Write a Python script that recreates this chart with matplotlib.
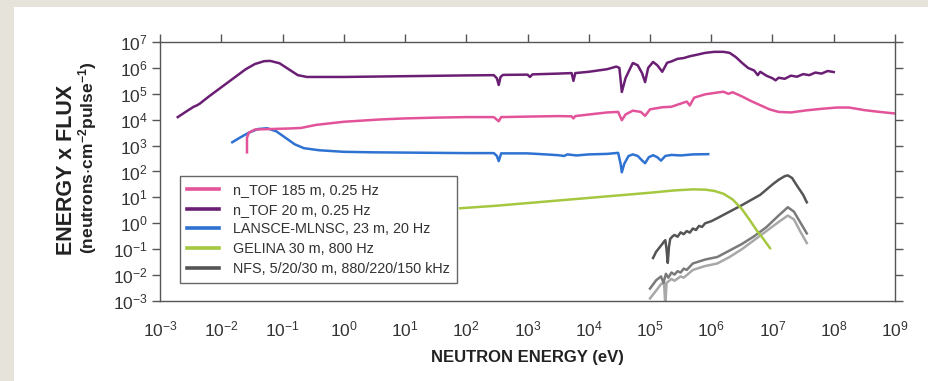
import numpy as np
import matplotlib
matplotlib.use("Agg")
import matplotlib.pyplot as plt
from matplotlib.patches import Rectangle
from matplotlib.lines import Line2D

plt.rcParams['font.family'] = ['Liberation Sans', 'DejaVu Sans']
plt.rcParams['mathtext.default'] = 'regular'

# ---- data (log10 values) ----
ntof185_logE = [-1.58, -1.58, -1.55, -1.45, -1.2, -0.9, -0.7, -0.45, 0.0, 0.6, 1.0, 1.5, 2.0, 2.45, 2.53, 2.57,
                3.0, 3.5, 3.72, 3.75, 3.78, 4.0, 4.3, 4.48, 4.54, 4.6, 4.72, 4.85, 4.92, 5.0, 5.2, 5.35, 5.5,
                5.6, 5.65, 5.72, 5.9, 6.1, 6.2, 6.28, 6.35, 6.5, 6.65, 6.8, 6.95, 7.1, 7.3, 7.55, 7.8, 8.05,
                8.25, 8.5, 8.75, 9.0]
ntof185_logY = [2.74, 3.3, 3.5, 3.62, 3.64, 3.66, 3.68, 3.8, 3.92, 4.01, 4.05, 4.08, 4.1, 4.1, 3.94, 4.1,
                4.12, 4.14, 4.13, 4.05, 4.14, 4.2, 4.28, 4.3, 3.98, 4.2, 4.35, 4.3, 4.15, 4.4, 4.48, 4.5, 4.62,
                4.7, 4.55, 4.85, 4.98, 5.05, 5.08, 5.0, 5.06, 4.9, 4.72, 4.56, 4.4, 4.3, 4.28, 4.36, 4.42, 4.47,
                4.47, 4.37, 4.3, 4.24]

ntof20_logE = [-2.71, -2.55, -2.45, -2.40, -2.35, -2.2, -2.0, -1.8, -1.6, -1.45, -1.3, -1.2, -1.05, -0.9,
               -0.75, -0.6, 0.0, 1.0, 2.0, 2.45, 2.50, 2.53, 2.56, 2.6, 3.0, 3.04, 3.08, 3.5, 3.72, 3.75, 3.78,
               4.0, 4.3, 4.45, 4.5, 4.54, 4.6, 4.68, 4.72, 4.8, 4.87, 4.92, 4.97, 5.05, 5.12, 5.2, 5.28, 5.35,
               5.45, 5.55, 5.65, 5.75, 5.9, 6.05, 6.2, 6.3, 6.4, 6.5, 6.6, 6.7, 6.76, 6.8, 6.9, 7.0, 7.05,
               7.1, 7.2, 7.3, 7.4, 7.5, 7.6, 7.7, 7.8, 7.9, 8.0]
ntof20_logY = [4.10, 4.35, 4.50, 4.55, 4.62, 4.90, 5.25, 5.6, 5.95, 6.15, 6.26, 6.27, 6.18, 5.95, 5.72,
               5.65, 5.65, 5.68, 5.71, 5.72, 5.60, 5.34, 5.65, 5.73, 5.74, 5.65, 5.75, 5.78, 5.80, 5.50, 5.80,
               5.85, 5.95, 6.05, 6.0, 5.07, 5.6, 6.0, 6.19, 6.1, 5.8, 5.45, 6.0, 6.23, 6.1, 5.85, 6.2, 6.25,
               6.35, 6.38, 6.45, 6.5, 6.58, 6.62, 6.62, 6.58, 6.42, 6.2, 6.0, 5.9, 5.72, 5.85, 5.7, 5.6, 5.52,
               5.62, 5.58, 5.7, 5.66, 5.76, 5.72, 5.82, 5.78, 5.88, 5.84]

lansce_logE = [-1.82, -1.7, -1.55, -1.4, -1.25, -1.1, -0.95, -0.8, -0.65, -0.4, 0.0, 0.5, 1.0, 1.5, 2.0,
               2.45, 2.5, 2.53, 2.57, 3.0, 3.3, 3.5, 3.6, 3.65, 3.8, 4.0, 4.3, 4.48, 4.52, 4.54, 4.58, 4.65,
               4.72, 4.8, 4.86, 4.92, 4.98, 5.05, 5.12, 5.18, 5.25, 5.35, 5.5, 5.7, 5.95]
lansce_logY = [3.13, 3.3, 3.5, 3.64, 3.67, 3.55, 3.3, 3.05, 2.9, 2.82, 2.76, 2.74, 2.73, 2.72, 2.71,
               2.71, 2.6, 2.4, 2.7, 2.7, 2.66, 2.63, 2.6, 2.66, 2.62, 2.66, 2.68, 2.72, 2.3, 1.97, 2.3, 2.6,
               2.66, 2.6, 2.45, 2.32, 2.55, 2.63, 2.55, 2.42, 2.6, 2.64, 2.62, 2.66, 2.67]

gelina_logE = [1.9, 2.5, 3.0, 3.5, 4.0, 4.5, 5.0, 5.4, 5.7, 5.9, 6.05, 6.2, 6.35, 6.5, 6.63, 6.75, 6.85, 6.96]
gelina_logY = [0.58, 0.68, 0.78, 0.88, 0.98, 1.08, 1.18, 1.27, 1.31, 1.30, 1.25, 1.14, 0.92, 0.55, 0.12,
               -0.3, -0.6, -0.96]

nfs5_logE = [5.05, 5.1, 5.15, 5.2, 5.23, 5.25, 5.27, 5.29, 5.31, 5.33, 5.37, 5.4, 5.45, 5.5, 5.55, 5.6,
             5.65, 5.7, 5.75, 5.8, 5.85, 5.9, 6.0, 6.1, 6.3, 6.5, 6.65, 6.8, 6.9, 7.0, 7.1, 7.2, 7.25, 7.32,
             7.4, 7.5, 7.56]
nfs5_logY = [-1.34, -1.1, -0.95, -0.8, -0.7, -0.65, -1.0, -1.53, -0.9, -0.6, -0.5, -0.45, -0.52, -0.35,
             -0.42, -0.3, -0.36, -0.2, -0.26, -0.1, -0.14, 0.0, 0.08, 0.2, 0.45, 0.7, 0.9, 1.1, 1.3, 1.5,
             1.68, 1.82, 1.85, 1.75, 1.45, 1.1, 0.81]

nfs20_logE = [5.0, 5.1, 5.18, 5.22, 5.26, 5.3, 5.35, 5.4, 5.45, 5.5, 5.55, 5.6, 5.7, 5.9, 6.1, 6.3, 6.5,
              6.7, 6.9, 7.1, 7.25, 7.35, 7.45, 7.56]
nfs20_logY = [-2.52, -2.2, -2.05, -2.3, -1.95, -2.1, -1.9, -1.98, -1.85, -1.9, -1.75, -1.8, -1.55, -1.4,
              -1.3, -1.05, -0.8, -0.5, -0.15, 0.3, 0.62, 0.45, 0.05, -0.39]

nfs30_logE = [5.0, 5.1, 5.18, 5.23, 5.25, 5.27, 5.35, 5.4, 5.5, 5.55, 5.7, 5.9, 6.1, 6.3, 6.5, 6.7, 6.9,
              7.1, 7.25, 7.35, 7.45, 7.56]
nfs30_logY = [-2.9, -2.6, -2.35, -2.3, -3.2, -2.3, -2.15, -2.22, -2.05, -2.1, -1.8, -1.65, -1.55, -1.3,
              -1.0, -0.65, -0.3, 0.05, 0.3, 0.15, -0.3, -0.76]

labels = ["n_TOF 185 m, 0.25 Hz", "n_TOF 20 m, 0.25 Hz", "LANSCE-MLNSC, 23 m, 20 Hz",
          "GELINA 30 m, 800 Hz", "NFS, 5/20/30 m, 880/220/150 kHz"]
x_ticks_exp = list(range(-3, 10))
y_ticks_exp = list(range(-3, 8))

c_pink = '#e2539a'
c_purple = '#6b1f74'
c_blue = '#2e72d2'
c_green = '#a5c840'
c_gray1 = '#555555'
c_gray2 = '#7a7a7a'
c_gray3 = '#a8a8a8'

fig = plt.figure(figsize=(9.29, 3.81), dpi=100, facecolor='white')
# beige frame strips (top and left)
fig.patches.append(Rectangle((0, 0), 14 / 929, 1, transform=fig.transFigure,
                             facecolor='#e6e3da', edgecolor='none', zorder=-10))
fig.patches.append(Rectangle((0, 1 - 7 / 381), 1, 7 / 381, transform=fig.transFigure,
                             facecolor='#e6e3da', edgecolor='none', zorder=-10))
ax = fig.add_axes([160 / 929, 1 - 301 / 381, (895 - 160) / 929, (301 - 42) / 381])
ax.set_facecolor('white')


def p(le, ly):
    return 10 ** np.array(le), 10 ** np.array(ly)


lw = 1.8
ax.plot(*p(nfs30_logE, nfs30_logY), color=c_gray3, lw=lw)
ax.plot(*p(nfs20_logE, nfs20_logY), color=c_gray2, lw=lw)
ax.plot(*p(nfs5_logE, nfs5_logY), color=c_gray1, lw=lw)
ax.plot(*p(gelina_logE, gelina_logY), color=c_green, lw=lw)
ax.plot(*p(lansce_logE, lansce_logY), color=c_blue, lw=lw)
ax.plot(*p(ntof185_logE, ntof185_logY), color=c_pink, lw=lw)
ax.plot(*p(ntof20_logE, ntof20_logY), color=c_purple, lw=lw)

handles = [Line2D([], [], color=c, lw=2.6) for c in [c_pink, c_purple, c_blue, c_green, c_gray1]]
leg = ax.legend(handles, labels, loc='lower left', bbox_to_anchor=(0.027, 0.069), borderaxespad=0,
                fontsize=10.4, handlelength=2.2, handletextpad=1.0, labelspacing=0.4, borderpad=0.5,
                fancybox=False, framealpha=1, edgecolor='#666666')
leg.get_frame().set_linewidth(1.0)
for t in leg.get_texts():
    t.set_color('#333333')

ax.set_xscale('log')
ax.set_yscale('log')
ax.set_xlim(1e-3, 1e9)
ax.set_ylim(1e-3, 1e7)
ax.set_xticks([10.0 ** e for e in x_ticks_exp])
ax.set_yticks([10.0 ** e for e in y_ticks_exp])
ax.set_xticklabels([r'$10^{%d}$' % e for e in x_ticks_exp])
ax.set_yticklabels([r'$10^{%d}$' % e for e in y_ticks_exp])
ax.minorticks_off()
ax.tick_params(axis='both', which='major', direction='out', length=6, width=1, color='#555555',
               labelsize=12.5, labelcolor='#333333', top=True, right=True, bottom=False, pad=3)
ax.tick_params(axis='x', pad=7)
for s in ax.spines.values():
    s.set_color('#555555')
    s.set_linewidth(1.0)

ax.set_xlabel('NEUTRON ENERGY (eV)', fontsize=12, fontweight='bold', color='#222222', labelpad=8)
fig.text(67 / 929, 1 - 170 / 381, 'ENERGY x FLUX', rotation=90, ha='center', va='center',
         fontsize=15.5, fontweight='bold', color='#222222')
fig.text(88 / 929, 1 - 158 / 381, r'(neutrons$\cdot$cm$^{-2}$pulse$^{-1}$)', rotation=90, ha='center',
         va='center', fontsize=12.6, fontweight='bold', color='#222222')

fig.savefig('out.png', dpi=100, facecolor=fig.get_facecolor())
